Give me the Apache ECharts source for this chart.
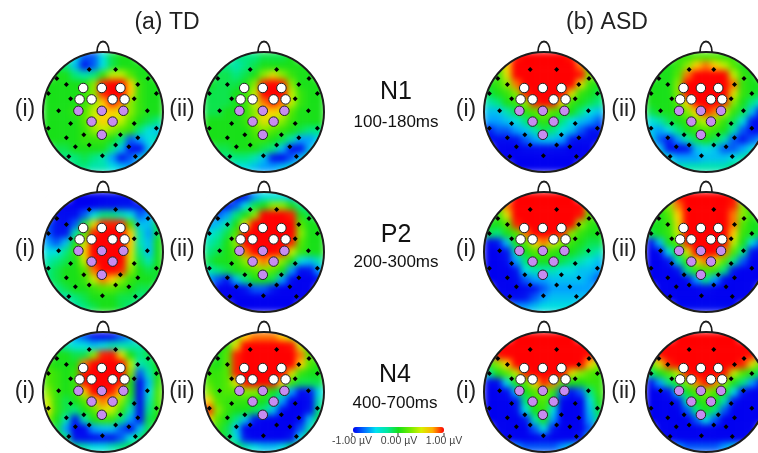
<!DOCTYPE html>
<html><head><meta charset="utf-8">
<style>
html,body{margin:0;padding:0;background:#fff;overflow:hidden;width:758px;height:453px}
#maps{position:absolute;left:0;top:0;width:800px;height:480px;filter:blur(3.4px)}
#top{position:absolute;left:0;top:0;width:758px;height:453px}
</style>
<script src="https://cdn.jsdelivr.net/npm/echarts@6/dist/echarts.min.js"></script>
</head><body>
<div id="maps"></div><div id="top"></div>
<script>
// Scalp potential, tenths of a microvolt, 13 x 13 samples (row 0 = front of head).
const tdN1i=[
[-3,-3,-3,-4,-7,-7,-4,-1,0,0,0,0,0],
[0,-1,-2,-5,-8,-7,-4,-1,0,0,0,0,0],
[0,0,0,-2,-3,-2,1,4,4,2,0,0,0],
[0,0,0,0,0,3,8,10,10,6,1,0,0],
[0,0,0,0,1,3,8,10,10,6,1,0,0],
[0,0,0,0,1,3,6,8,7,3,1,0,0],
[0,0,0,1,2,4,6,6,5,3,1,0,0],
[0,0,0,0,2,4,6,5,4,2,0,-1,-2],
[0,0,0,0,1,3,4,3,2,1,-2,-4,-5],
[0,0,0,0,1,1,1,0,-2,-7,-6,-4,-3],
[-1,-1,-1,0,0,0,0,-2,-5,-8,-9,-5,-4],
[-2,-2,-2,-2,-1,-2,-3,-6,-8,-7,-5,-3,-3],
[-2,-2,-2,-2,-2,-3,-3,-4,-5,-6,-5,-3,-3]];
const tdN1ii=[
[-2,-2,-2,-2,-2,-2,-1,-1,-1,0,0,0,0],
[-1,-2,-2,-3,-2,-1,0,0,0,0,0,0,0],
[-1,-1,-1,-2,-1,0,3,5,3,1,0,0,0],
[0,-1,-1,-1,0,3,8,10,8,3,0,0,0],
[-1,-1,-1,0,1,4,10,10,10,4,1,0,0],
[-1,-1,-1,0,1,4,7,8,7,4,1,0,0],
[-1,-1,0,0,1,3,6,6,5,2,0,0,0],
[0,0,0,0,1,3,5,4,3,1,0,0,0],
[0,0,0,0,0,2,3,2,1,0,-1,-2,-2],
[0,0,0,0,0,1,1,0,-1,-3,-6,-6,-4],
[-1,-1,-1,0,0,0,-1,-2,-5,-8,-8,-5,-4],
[-2,-2,-2,-2,-2,-3,-5,-8,-9,-7,-5,-3,-3],
[-2,-2,-3,-4,-4,-5,-6,-6,-5,-4,-3,-3,-3]];
const tdP2i=[
[-9,-9,-9,-10,-10,-10,-10,-9,-9,-9,-9,-9,-9],
[-9,-9,-10,-10,-10,-10,-9,-9,-8,-8,-8,-8,-8],
[-8,-9,-9,-9,-7,-4,-2,-2,-3,-4,-7,-6,-3],
[-7,-8,-9,-7,-1,5,8,8,8,2,-5,-5,-1],
[-7,-8,-8,-3,2,8,10,10,10,6,-3,-6,-1],
[-6,-7,-5,0,4,10,10,10,10,6,-3,-5,0],
[-4,-4,-2,1,6,10,10,10,10,5,-2,-5,0],
[-3,-2,-1,0,4,9,10,10,10,4,-1,-3,0],
[-2,-1,0,0,2,7,10,10,8,3,0,-1,0],
[-2,-1,0,0,1,4,7,6,3,1,0,0,-1],
[-2,-2,-1,0,0,1,2,2,1,0,-1,-1,-1],
[-3,-3,-3,-2,-1,0,0,0,-1,-1,-2,-2,-2],
[-3,-3,-3,-3,-2,-1,0,0,-1,-2,-2,-2,-2]];
const tdP2ii=[
[-9,-9,-9,-9,-8,-6,-4,-4,-4,-5,-6,-6,-6],
[-8,-8,-8,-7,-4,-1,0,3,3,0,-2,-3,-3],
[-7,-7,-6,-2,0,3,10,10,10,8,0,-1,-1],
[-6,-5,-3,0,5,10,10,10,10,10,2,0,0],
[-4,-3,-1,2,9,10,10,10,10,10,3,0,0],
[-3,-2,0,3,10,10,10,10,10,8,2,0,0],
[-2,-1,0,2,7,10,10,10,8,4,1,0,0],
[-1,0,0,1,3,6,7,6,3,0,-4,-5,-3],
[-3,-2,-1,0,1,2,3,2,0,-6,-9,-8,-6],
[-6,-7,-8,-5,-2,0,0,-1,-6,-9,-10,-10,-8],
[-8,-10,-10,-10,-8,-7,-7,-8,-10,-10,-10,-10,-9],
[-10,-10,-10,-10,-10,-10,-10,-10,-10,-10,-10,-10,-10],
[-10,-10,-10,-10,-10,-10,-10,-10,-10,-10,-10,-10,-10]];
const tdN4i=[
[0,-2,-4,-6,-7,-8,-9,-8,-7,-6,-4,-2,0],
[0,-1,-3,-4,-4,-5,-4,-3,-3,-3,-3,-1,0],
[1,0,0,-1,-1,3,8,9,5,0,-2,-1,0],
[1,0,0,0,7,10,10,10,10,4,-3,-2,0],
[2,1,0,1,9,10,10,10,10,3,-7,-3,0],
[2,1,0,1,9,10,10,10,8,0,-9,-5,1],
[3,1,0,1,6,10,10,8,6,0,-9,-4,2],
[4,1,-1,0,2,5,7,6,3,-1,-9,-3,2],
[5,1,-1,-2,0,2,5,4,1,-3,-9,-2,1],
[3,0,-3,-8,-3,0,1,1,-2,-6,-8,-1,0],
[1,-1,-6,-10,-9,-6,-5,-5,-7,-9,-5,-1,0],
[0,-1,-2,-8,-9,-9,-8,-8,-7,-4,-2,0,0],
[0,0,-1,-2,-3,-4,-4,-3,-2,-1,0,0,0]];
const tdN4ii=[
[0,0,1,3,6,7,7,7,6,4,2,1,0],
[0,0,1,5,10,10,10,10,10,9,4,1,0],
[0,0,2,8,10,10,10,10,10,10,7,2,0],
[1,0,2,8,10,10,10,10,10,10,6,2,0],
[1,1,2,8,10,10,10,10,10,5,1,0,0],
[2,1,2,5,9,10,10,9,6,1,-1,-1,-1],
[3,1,2,2,3,3,2,0,-2,-6,-9,-8,-4],
[6,2,1,1,1,0,0,-2,-6,-10,-10,-9,-3],
[8,3,1,0,0,-1,-2,-5,-9,-10,-10,-8,-2],
[6,2,0,-2,-5,-8,-10,-10,-10,-10,-9,-5,-1],
[3,1,-1,-5,-10,-10,-10,-10,-10,-10,-7,-3,0],
[1,0,-1,-4,-8,-10,-10,-10,-10,-8,-4,-1,0],
[0,0,0,-1,-3,-4,-5,-5,-4,-2,-1,0,0]];
const asdN1i=[
[1,2,4,8,10,10,10,10,10,8,4,2,1],
[1,2,6,10,10,10,10,10,10,10,7,2,1],
[0,1,5,10,10,10,10,10,10,10,9,3,0],
[0,1,3,7,10,10,10,10,10,10,5,1,0],
[-1,0,1,3,8,10,10,10,10,5,1,0,-1],
[-3,-2,0,1,3,8,10,9,5,1,0,-1,-2],
[-5,-5,-3,-1,1,2,3,2,1,0,-2,-4,-5],
[-6,-6,-5,-4,-2,0,1,0,-2,-4,-5,-6,-7],
[-8,-7,-7,-6,-5,-3,-1,-2,-4,-5,-7,-8,-8],
[-9,-9,-9,-8,-7,-6,-5,-5,-6,-8,-9,-9,-9],
[-9,-10,-10,-10,-9,-9,-9,-9,-9,-10,-10,-10,-9],
[-10,-10,-10,-10,-10,-10,-10,-10,-10,-10,-10,-10,-10],
[-10,-10,-10,-10,-10,-10,-10,-10,-10,-10,-10,-10,-10]];
const asdN1ii=[
[0,0,0,1,1,2,2,2,1,1,0,0,0],
[0,0,0,1,3,6,7,6,4,2,0,0,0],
[0,0,0,2,7,10,10,10,10,4,1,0,0],
[0,0,0,3,10,10,10,10,10,7,1,0,0],
[0,0,0,3,10,10,10,10,10,5,1,0,-1],
[0,0,0,2,6,10,10,10,8,3,0,-2,-4],
[-1,0,0,1,3,6,8,7,4,1,-1,-5,-8],
[-4,-3,-1,0,1,3,4,3,1,-1,-4,-8,-10],
[-5,-6,-4,-2,0,1,2,1,0,-3,-7,-9,-9],
[-4,-7,-8,-6,-3,-1,0,-1,-3,-7,-8,-7,-6],
[-3,-5,-8,-9,-8,-5,-4,-5,-7,-7,-6,-4,-3],
[-2,-3,-4,-6,-6,-6,-5,-5,-5,-4,-3,-2,-2],
[-2,-2,-2,-3,-3,-3,-3,-3,-3,-2,-2,-2,-2]];
const asdP2i=[
[3,5,8,10,10,10,10,10,10,10,8,4,2],
[1,3,7,10,10,10,10,10,10,10,10,4,1],
[0,1,5,10,10,10,10,10,10,10,9,2,0],
[0,0,2,8,10,10,10,10,10,10,3,1,0],
[-1,-2,0,2,7,10,10,10,8,3,1,0,0],
[-9,-8,-5,0,2,6,7,5,3,1,0,-1,-1],
[-10,-10,-8,-3,0,2,2,1,0,0,-1,-2,-3],
[-10,-10,-9,-6,-2,0,0,0,-1,-2,-3,-4,-5],
[-10,-10,-10,-8,-4,-3,-3,-3,-4,-4,-5,-5,-6],
[-10,-10,-10,-9,-7,-6,-6,-5,-5,-5,-5,-6,-7],
[-9,-10,-10,-10,-9,-8,-7,-6,-6,-6,-6,-6,-7],
[-8,-9,-9,-9,-8,-7,-6,-5,-5,-5,-5,-5,-6],
[-7,-7,-7,-6,-6,-5,-4,-4,-4,-4,-4,-5,-5]];
const asdP2ii=[
[0,1,4,9,10,10,10,10,10,9,5,1,0],
[0,1,3,7,10,10,10,10,10,8,3,1,0],
[0,0,2,6,10,10,10,10,10,7,3,1,0],
[0,0,1,5,10,10,10,10,10,7,2,0,0],
[-1,0,1,4,10,10,10,10,10,6,1,0,-1],
[-8,-5,0,2,8,10,10,10,10,4,0,-4,-7],
[-10,-9,-4,0,5,10,10,10,7,2,-2,-8,-10],
[-10,-10,-8,-3,1,5,7,5,2,-2,-7,-10,-10],
[-10,-10,-10,-8,-2,1,2,1,-2,-8,-10,-10,-10],
[-10,-10,-10,-10,-9,-6,-2,-6,-9,-10,-10,-10,-10],
[-10,-10,-10,-10,-10,-10,-9,-10,-10,-10,-10,-10,-10],
[-10,-10,-10,-10,-10,-10,-10,-10,-10,-10,-10,-10,-10],
[-9,-9,-9,-9,-9,-9,-9,-9,-9,-9,-9,-9,-9]];
const asdN4i=[
[10,10,10,10,10,10,10,10,10,10,10,10,10],
[9,10,10,10,10,10,10,10,10,10,10,10,9],
[6,9,10,10,10,10,10,10,10,10,10,9,6],
[1,3,6,10,10,10,10,10,10,10,10,6,3],
[-3,0,2,4,8,10,10,10,10,5,3,2,1],
[-9,-9,-4,0,2,6,8,7,2,0,0,1,1],
[-10,-10,-9,-5,0,2,3,1,-7,-8,-7,-2,1],
[-10,-10,-10,-8,-2,1,2,-1,-9,-10,-10,-4,0],
[-10,-10,-10,-9,-4,0,1,-4,-10,-10,-10,-5,-1],
[-10,-10,-10,-10,-8,-3,0,-6,-10,-10,-10,-6,-2],
[-9,-10,-10,-10,-10,-7,-4,-8,-10,-10,-10,-7,-4],
[-5,-8,-10,-10,-10,-10,-9,-10,-10,-10,-8,-4,-2],
[-1,-2,-4,-6,-7,-7,-7,-7,-6,-4,-2,-1,0]];
const asdN4ii=[
[10,10,10,10,10,10,10,10,10,10,10,10,10],
[8,10,10,10,10,10,10,10,10,10,10,10,8],
[6,9,10,10,10,10,10,10,10,10,10,9,6],
[2,5,8,10,10,10,10,10,10,10,8,5,2],
[-2,0,2,4,9,10,10,10,9,4,2,0,-2],
[-8,-6,-2,0,3,7,9,7,3,0,-2,-6,-8],
[-10,-10,-8,-4,0,2,3,2,0,-4,-8,-10,-10],
[-10,-10,-10,-8,-3,0,1,0,-3,-8,-10,-10,-10],
[-10,-10,-10,-10,-7,-2,0,-2,-7,-10,-10,-10,-10],
[-10,-10,-10,-10,-10,-7,-4,-7,-10,-10,-10,-10,-10],
[-9,-10,-10,-10,-10,-10,-10,-10,-10,-10,-10,-10,-9],
[-5,-8,-10,-10,-10,-10,-10,-10,-10,-10,-10,-8,-5],
[-1,-2,-4,-6,-7,-7,-7,-7,-6,-4,-2,-1,-1]];

// Electrode sites on the unit head circle
const blackSites=[[-.23,.71],[.21,.71],[-.77,.56],[.75,.56],[-.61,.46],[.58,.46],[-.91,.31],[.89,.31],[-.54,.22],[.52,.22],[-.74,.02],[.74,.02],[-.54,-.19],[.52,-.19],[-.91,-.27],[.89,-.27],[-.61,-.43],[.58,-.43],[-.32,-.38],[.29,-.38],[-.46,-.58],[.43,-.58],[-.23,-.55],[.21,-.55],[-.57,-.74],[.54,-.74],[-.01,-.73]];
const whiteSites=[[-.33,.4],[-.02,.4],[.29,.4],[-.39,.21],[-.19,.21],[.16,.21],[.36,.21]];
const purpleSites=[[-.41,.02],[-.02,.02],[.34,.02],[-.19,-.16],[.16,-.16],[-.02,-.38]];

const mapCentersX=[103,264,544,706];
const mapCentersY=[112,252,392];
const mapTable=[[tdN1i,tdN1ii,asdN1i,asdN1ii],[tdP2i,tdP2ii,asdP2i,asdP2ii],[tdN4i,tdN4ii,asdN4i,asdN4ii]];
const groupTitles=['(a) TD','(b) ASD'];
const components=['N1','P2','N4'];
const windows=['100-180ms','200-300ms','400-700ms'];
const scaleLabels=['-1.00 µV','0.00 µV','1.00 µV'];
const rampColors=['#0000f0','#0070ff','#00e0f0','#00e8a0','#18e018','#70ec00','#d8f000','#ffb000','#ff0000'];
const fieldColors=['#0000f0','#0014f0','#00a0ff','#00e0e0','#00e880','#18e018','#50e800','#c0f000','#ffd000','#ff2000','#ff0000'];

const R=60, N=13;
const idx=[...Array(N).keys()].map(String);
const mapsOpt={animation:false,grid:[],xAxis:[],yAxis:[],series:[],
  visualMap:{show:false,min:-1,max:1,seriesIndex:'all',inRange:{color:fieldColors}}};
const topOpt={animation:false,grid:[],xAxis:[],yAxis:[],series:[],graphic:{elements:[]},
  visualMap:{type:'continuous',min:-1,max:1,seriesIndex:0,left:353,top:427,padding:0,orient:'horizontal',
    itemWidth:6,itemHeight:91,text:null,showLabel:false,calculable:false,realtime:false,inRange:{color:rampColors}}};
const els=topOpt.graphic.elements;
const ink='#1c1c1c';

topOpt.series.push({type:'scatter',xAxisIndex:0,yAxisIndex:0,data:[],silent:true});
mapCentersY.forEach((cy,r)=>mapCentersX.forEach((cx,c)=>{
  const g=mapsOpt.grid.length;
  const rect={left:cx-R,top:cy-R,width:2*R,height:2*R,containLabel:false};
  mapsOpt.grid.push(rect); topOpt.grid.push(rect);
  mapsOpt.xAxis.push({type:'category',gridIndex:g,data:idx,show:false});
  mapsOpt.yAxis.push({type:'category',gridIndex:g,data:idx,inverse:true,show:false});
  topOpt.xAxis.push({type:'value',gridIndex:g,min:-1,max:1,show:false});
  topOpt.yAxis.push({type:'value',gridIndex:g,min:-1,max:1,show:false});
  const cells=[];
  mapTable[r][c].forEach((row,j)=>row.forEach((v,i)=>{
    const dx=(i+.5)/N*2-1, dy=(j+.5)/N*2-1;
    if(Math.hypot(dx,dy)<1.1) cells.push([i,j,v/10]);
  }));
  mapsOpt.series.push({type:'heatmap',xAxisIndex:g,yAxisIndex:g,data:cells,silent:true,itemStyle:{borderWidth:0},emphasis:{disabled:true}});
  const scat=(data,symbol,size,style,z)=>topOpt.series.push({type:'scatter',xAxisIndex:g,yAxisIndex:g,data,symbol,symbolSize:size,itemStyle:Object.assign({opacity:1},style),silent:true,z,clip:false});
  scat(blackSites,'diamond',5,{color:'#000'},6);
  scat(whiteSites,'circle',9.5,{color:'#fff',borderColor:'#222',borderWidth:1},7);
  scat(purpleSites,'circle',9.5,{color:'#c78cf0',borderColor:'#222',borderWidth:1},7);
  // white ring hides the square corners of the sampled field; outline and nose sit above it
  els.push({type:'circle',shape:{cx,cy,r:R+9.5},style:{fill:'none',stroke:'#fff',lineWidth:19},z:1,silent:true});
  els.push({type:'bezierCurve',shape:{x1:cx-6,y1:cy-R,cpx1:cx-6,cpy1:cy-R-14,cpx2:cx+6,cpy2:cy-R-14,x2:cx+6,y2:cy-R},style:{fill:'#fff',stroke:ink,lineWidth:1.8},z:8,silent:true});
  els.push({type:'circle',shape:{cx,cy,r:R},style:{fill:'none',stroke:ink,lineWidth:2},z:9,silent:true});
}));

const font='"Liberation Sans",Arial,sans-serif';
const txt=(s,x,y,size,align,color)=>els.push({type:'text',x,y,z:10,silent:true,style:{text:s,font:`${size}px ${font}`,fill:color||'#222',textAlign:align||'center',textVerticalAlign:'middle'}});
txt(groupTitles[0],167,23,23);
txt(groupTitles[1],607,23,23);
const romanX=[[25,'(i)'],[182,'(ii)'],[466,'(i)'],[624,'(ii)']];
[110,250,392].forEach(y=>romanX.forEach(([x,s])=>txt(s,x,y,23)));
[[396,92,122],[396,235,262],[395,375,403]].forEach(([x,y1,y2],i)=>{txt(components[i],x,y1,25,'center','#111');txt(windows[i],x,y2,17,'center','#111');});
[352,398,444].forEach((x,i)=>{
  txt(scaleLabels[i],[352,399,444][i],441,10.5,'center','#444');
  els.push({type:'line',shape:{x1:x,y1:433,x2:x,y2:436},style:{stroke:'#333',lineWidth:1},z:10,silent:true});
});

echarts.init(document.getElementById('maps'),null,{renderer:'canvas'}).setOption(mapsOpt);
echarts.init(document.getElementById('top'),null,{renderer:'canvas'}).setOption(topOpt);
</script>
</body></html>
